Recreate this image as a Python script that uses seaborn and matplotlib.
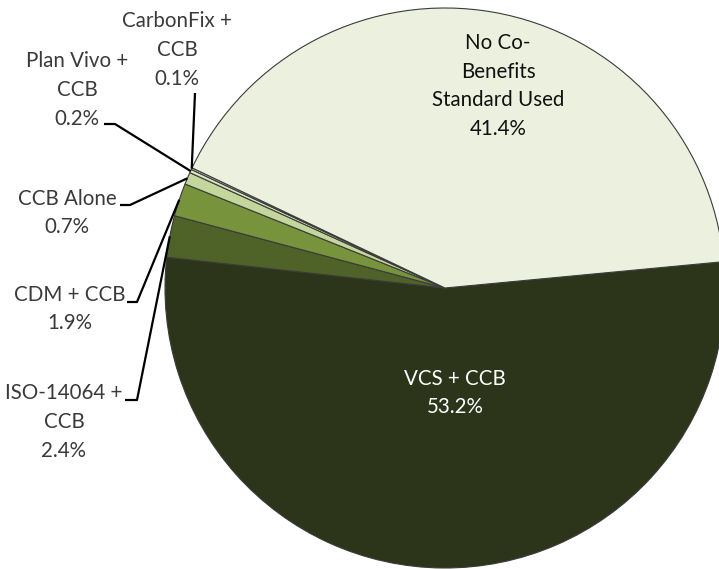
import numpy as np
import matplotlib
matplotlib.use("Agg")
import matplotlib.pyplot as plt
import seaborn as sns

# data (clockwise, starting just above 3 o'clock)
categories = ["VCS + CCB", "ISO-14064 +\nCCB", "CDM + CCB", "CCB Alone",
              "Plan Vivo +\nCCB", "CarbonFix +\nCCB", "No Co-\nBenefits\nStandard Used"]
shares = [53.2, 2.4, 1.9, 0.7, 0.2, 0.1, 41.4]
colors = ["#2c3419", "#4f6228", "#77933c", "#c3d69b", "#d7e4bd", "#e4ecd2", "#ebf1de"]

sns.set_style("white")
plt.rcParams["font.family"] = ["Lato", "DejaVu Sans"]

W, H = 719, 569
cx, cy, R = 445, 288, 280   # pie centre / radius in pixels

fig = plt.figure(figsize=(W / 100, H / 100), dpi=100)
ax = fig.add_axes([0, 0, 1, 1])

wedges, _ = ax.pie(shares, colors=colors, startangle=5.4, counterclock=False,
                   radius=1, wedgeprops=dict(edgecolor="#3b3b3b", linewidth=0.8))
# pie() resets the limits, so set them afterwards
ax.set_xlim(-cx / R, (W - cx) / R)
ax.set_ylim(-(H - cy) / R, cy / R)
ax.set_aspect("equal")
ax.axis("off")


def px(x, y):
    # pixel position (top-left origin) -> data coords
    return (x - cx) / R, (cy - y) / R


labels = [f"{c}\n{s}%" for c, s in zip(categories, shares)]
fs = 14.8
ls = 1.55
txt = "#3a3a3a"

# inside labels
ax.text(*px(455, 393), labels[0], ha="center", va="center", color="white",
        fontsize=fs, linespacing=ls)
ax.text(*px(498, 86), labels[6], ha="center", va="center", color="#111111",
        fontsize=fs, linespacing=ls)

# outside labels with leader lines: (text centre, line start, elbow)
outside = {
    1: ((64, 422), (125, 400), (137, 400)),
    2: ((70, 309), (127, 302), (137, 302)),
    3: ((67, 213), (120, 205), (130, 205)),
    4: ((77, 90), (104, 124), (115, 124)),
    5: ((177, 50), (195, 93), (195, 93)),
}
for i, (tpos, start, elbow) in outside.items():
    w = wedges[i]
    mid = np.deg2rad((w.theta1 + w.theta2) / 2)
    ex, ey = np.cos(mid), np.sin(mid)
    ax.text(*px(*tpos), labels[i], ha="center", va="center", color=txt,
            fontsize=fs, linespacing=ls)
    sx, sy = px(*start)
    bx, by = px(*elbow)
    ax.plot([sx, bx, ex], [sy, by, ey], color="black", lw=1.6,
            solid_capstyle="butt", zorder=5)

fig.savefig("out.png", dpi=100, facecolor="white")
